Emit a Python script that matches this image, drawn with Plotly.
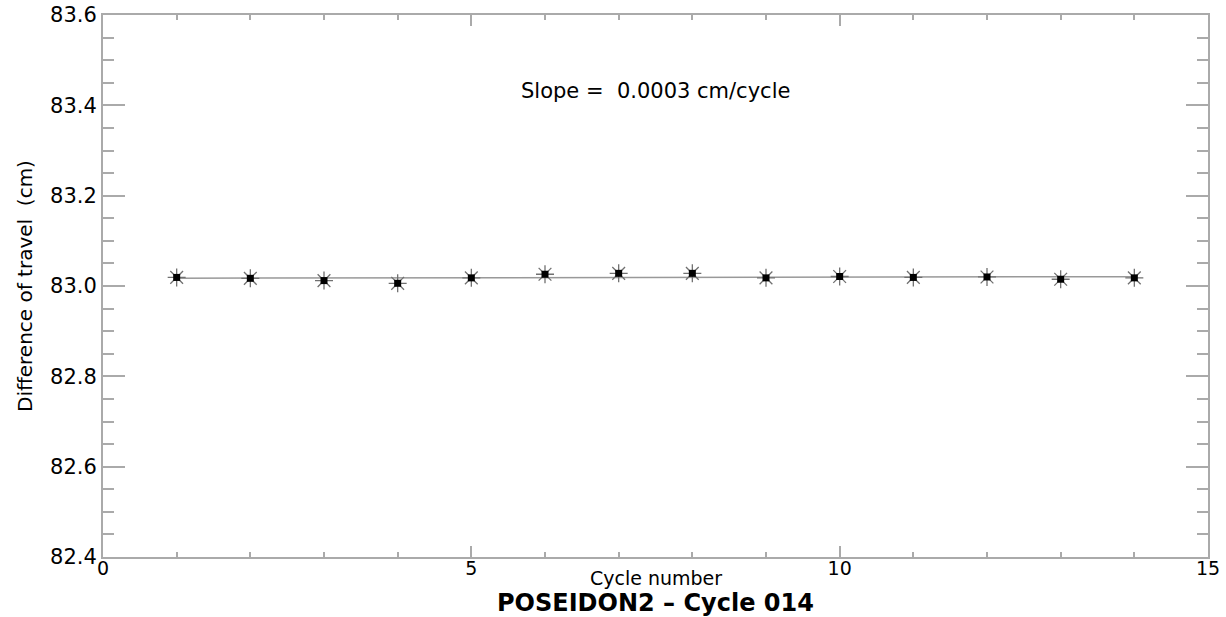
import numpy as np
import plotly.graph_objects as go

cycles = [1, 2, 3, 4, 5, 6, 7, 8, 9, 10, 11, 12, 13, 14]
diff_travel = [83.019, 83.017, 83.012, 83.006, 83.018, 83.026, 83.028,
               83.028, 83.018, 83.021, 83.019, 83.020, 83.015, 83.018]
slope_label = "Slope =  0.0003 cm/cycle"
title_text = "POSEIDON2 – Cycle 014"
x_title = "Cycle number"
y_title = "Difference of travel  (cm)"

coef = np.polyfit(cycles, diff_travel, 1)
fit = np.polyval(coef, cycles)

axis_col = "#aaaaaa"
font_fam = "DejaVu Sans"

fig = go.Figure()
fig.add_trace(go.Scatter(x=cycles, y=fit, mode="lines",
                         line=dict(color="#999999", width=1.5), hoverinfo="skip"))
fig.add_trace(go.Scatter(x=cycles, y=diff_travel, mode="markers",
                         marker=dict(symbol="asterisk-open", size=15, color="#707070",
                                     line=dict(color="#707070", width=1.3))))
fig.add_trace(go.Scatter(x=cycles, y=diff_travel, mode="markers",
                         marker=dict(symbol="square", size=7, color="black",
                                     line=dict(width=0))))

fig.update_layout(
    width=1226, height=617,
    margin=dict(l=103, r=18, t=15, b=60),
    paper_bgcolor="white", plot_bgcolor="white",
    showlegend=False,
    font=dict(family=font_fam, color="black"),
    xaxis=dict(range=[0, 15], tickvals=[0, 5, 10, 15], ticks="inside",
               ticklen=11, tickwidth=2, tickcolor=axis_col,
               showline=True, linecolor=axis_col, linewidth=2, mirror="ticks",
               showgrid=False, zeroline=False, automargin=False,
               ticklabelstandoff=-7,
               tickfont=dict(size=19, family=font_fam),
               minor=dict(dtick=1, ticks="inside", ticklen=5, tickwidth=1.5,
                          tickcolor=axis_col, showgrid=False)),
    yaxis=dict(range=[82.4, 83.6], tickvals=[82.4, 82.6, 82.8, 83.0, 83.2, 83.4, 83.6],
               tickformat=".1f", ticks="inside",
               ticklen=22, tickwidth=2, tickcolor=axis_col,
               showline=True, linecolor=axis_col, linewidth=2, mirror="ticks",
               showgrid=False, zeroline=False, automargin=False,
               tickfont=dict(size=21, family=font_fam),
               minor=dict(dtick=0.05, ticks="inside", ticklen=11, tickwidth=1.5,
                          tickcolor=axis_col, showgrid=False)),
)

fig.add_annotation(text=slope_label, xref="paper", yref="paper", x=0.5, y=0.886,
                   showarrow=False, font=dict(size=21, family=font_fam))
fig.add_annotation(text=x_title, xref="paper", yref="paper", x=0.5, y=0.0,
                   yshift=-21, showarrow=False, yanchor="middle", borderpad=0,
                   font=dict(size=19, family=font_fam))
fig.add_annotation(text="<b>" + title_text + "</b>", xref="paper", yref="paper",
                   x=0.5, y=0.0, yshift=-46, showarrow=False, yanchor="middle",
                   borderpad=0, font=dict(size=24, family=font_fam))
fig.add_annotation(text=y_title, xref="paper", yref="paper", x=0, xshift=-78,
                   y=0.5, textangle=-90, showarrow=False, xanchor="center",
                   font=dict(size=20, family=font_fam))

# remove the browser's default 8px body margin so the figure fills the window
fig.write_html("out.html", config={"displayModeBar": False},
               post_script="document.body.style.margin='0';document.body.style.overflow='hidden';")
